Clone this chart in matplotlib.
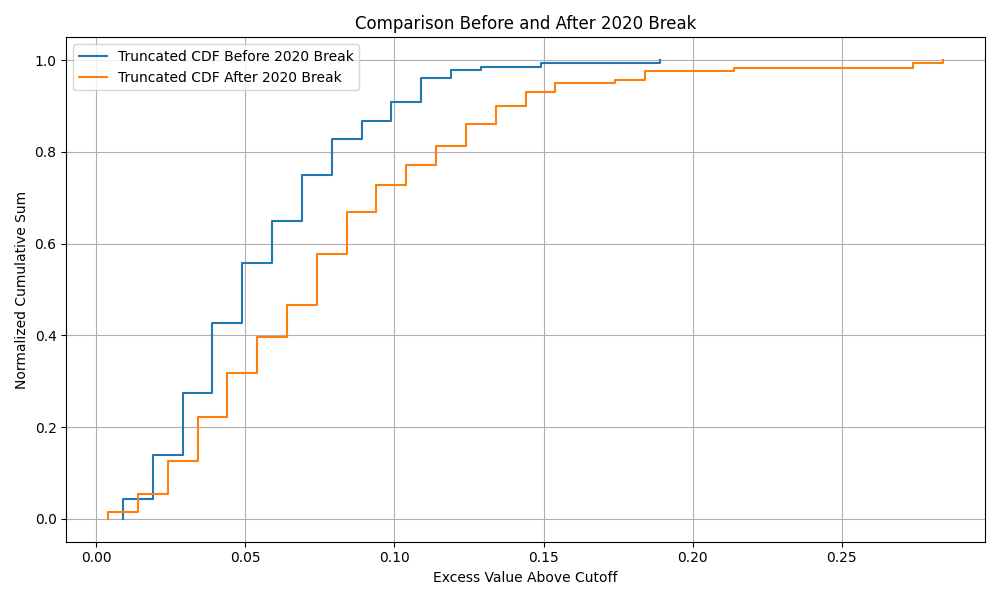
import matplotlib
matplotlib.use('Agg')
import matplotlib.pyplot as plt

# excess values (sorted) and normalized cumulative sums
x_before = [0.009, 0.009, 0.019, 0.029, 0.039, 0.049, 0.059, 0.069, 0.079,
            0.089, 0.099, 0.109, 0.119, 0.129, 0.149, 0.189]
y_before = [0.0, 0.044, 0.139, 0.275, 0.428, 0.557, 0.650, 0.749, 0.829,
            0.868, 0.910, 0.962, 0.979, 0.985, 0.993, 1.0]

x_after = [0.004, 0.004, 0.014, 0.024, 0.034, 0.044, 0.054, 0.064, 0.074,
           0.084, 0.094, 0.104, 0.114, 0.124, 0.134, 0.144, 0.154, 0.174,
           0.184, 0.214, 0.274, 0.284]
y_after = [0.0, 0.014, 0.053, 0.125, 0.223, 0.317, 0.397, 0.466, 0.577,
           0.668, 0.729, 0.771, 0.813, 0.860, 0.900, 0.930, 0.951, 0.956,
           0.976, 0.983, 0.993, 1.0]

plt.figure(figsize=(10, 6))
plt.step(x_before, y_before, where='post', label='Truncated CDF Before 2020 Break')
plt.step(x_after, y_after, where='post', label='Truncated CDF After 2020 Break')
plt.xlabel('Excess Value Above Cutoff')
plt.ylabel('Normalized Cumulative Sum')
plt.title('Comparison Before and After 2020 Break')
plt.legend(loc='upper left')
plt.grid(True)
plt.tight_layout()
plt.savefig('out.png', dpi=100)
